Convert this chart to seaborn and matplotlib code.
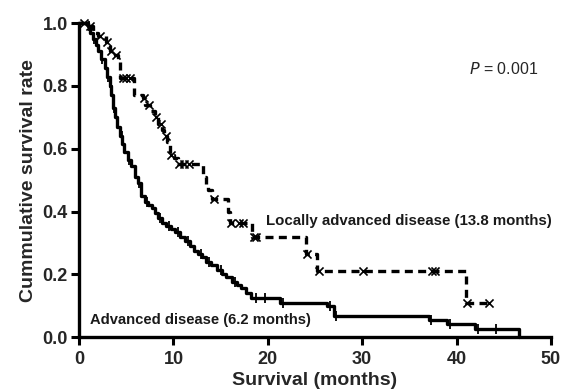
import numpy as np
import pandas as pd
import matplotlib
matplotlib.use("Agg")
import matplotlib.pyplot as plt
import seaborn as sns

# ---- Data ----
adv_time = [0, 0.9, 1.2, 1.5, 1.8, 2.0, 2.3, 2.7, 3.0, 3.25, 3.4, 3.6, 3.8, 4.05, 4.3,
            4.55, 4.8, 5.2, 5.5, 5.9, 6.2, 6.6, 7.0, 7.3, 7.7, 8.0, 8.4, 8.8, 9.2, 9.7,
            10.2, 10.7, 11.2, 11.7, 12.2, 12.6, 13.0, 13.5, 14.0, 14.6, 15.1, 15.6, 16.2,
            16.7, 17.2, 17.7, 18.2, 21.3, 26.3, 27.0, 37.1, 39.0, 42.0, 46.6]
adv_surv = [1.0, 0.99, 0.97, 0.95, 0.93, 0.91, 0.885, 0.857, 0.83, 0.80, 0.77, 0.73, 0.70,
            0.67, 0.64, 0.615, 0.59, 0.565, 0.545, 0.51, 0.49, 0.45, 0.43, 0.42, 0.41, 0.395,
            0.38, 0.365, 0.355, 0.345, 0.335, 0.32, 0.305, 0.29, 0.275, 0.265, 0.255, 0.24,
            0.23, 0.215, 0.20, 0.19, 0.175, 0.165, 0.155, 0.14, 0.125, 0.109, 0.098, 0.066,
            0.054, 0.041, 0.027, 0.0]
adv_cens = [1.0, 1.6, 2.4, 3.1, 3.7, 4.5, 5.3, 6.4, 7.2, 8.6, 9.5, 10.5, 11.5, 12.9, 13.8,
            15.0, 16.5, 18.8, 19.7, 21.6, 26.6, 27.2, 37.3, 39.3, 42.3, 44.2]

loc_time = [0, 1.0, 1.5, 2.0, 2.9, 3.25, 3.8, 4.1, 4.3, 5.8, 6.8, 7.0, 7.5, 8.0, 8.4, 8.8,
            9.0, 9.3, 9.6, 10.1, 10.5, 13.1, 13.5, 13.7, 14.1, 15.8, 16.0, 18.3, 24.0,
            25.2, 41.0, 43.4]
loc_surv = [1.0, 0.99, 0.97, 0.96, 0.94, 0.91, 0.90, 0.875, 0.826, 0.77, 0.76, 0.74, 0.72,
            0.70, 0.68, 0.66, 0.64, 0.62, 0.58, 0.57, 0.55, 0.51, 0.48, 0.47, 0.44, 0.40,
            0.364, 0.32, 0.265, 0.212, 0.109, 0.109]
loc_cens = [0.5, 1.2, 2.2, 3.0, 3.4, 3.9, 4.6, 5.0, 5.4, 6.9, 7.4, 8.1, 8.7, 9.2, 9.7,
            10.6, 11.1, 11.6, 14.3, 16.1, 16.9, 17.4, 18.5, 18.8, 24.2, 25.4, 30.1, 37.4,
            37.7, 41.1, 43.4]

x_ticks = [0, 10, 20, 30, 40, 50]
y_ticks = [0.0, 0.2, 0.4, 0.6, 0.8, 1.0]


def step_value(times, surv, t):
    idx = np.searchsorted(np.asarray(times), t, side="right") - 1
    return np.asarray(surv)[idx]


sns.set_style("white")
plt.rcParams["font.family"] = ["Liberation Sans", "DejaVu Sans"]

fig = plt.figure(figsize=(5.61, 3.92), dpi=100)
ax = fig.add_axes([0.141, 0.140, 0.841, 0.801])

adv_df = pd.DataFrame({"t": adv_time, "s": adv_surv})
loc_df = pd.DataFrame({"t": loc_time, "s": loc_surv})

sns.lineplot(data=adv_df, x="t", y="s", ax=ax, drawstyle="steps-post", color="black",
             linewidth=2.4, sort=False, estimator=None, clip_on=False)
sns.lineplot(data=loc_df, x="t", y="s", ax=ax, drawstyle="steps-post", color="black",
             linewidth=2.4, sort=False, estimator=None, clip_on=False,
             dashes=False)
ax.lines[-1].set_linestyle((0, (2.4, 1.6)))

adv_c = pd.DataFrame({"t": adv_cens, "s": [step_value(adv_time, adv_surv, c) for c in adv_cens]})
loc_c = pd.DataFrame({"t": loc_cens, "s": [step_value(loc_time, loc_surv, c) for c in loc_cens]})

sns.scatterplot(data=adv_c, x="t", y="s", ax=ax, marker="|", s=45, color="black",
                linewidth=1.3, clip_on=False)
sns.scatterplot(data=loc_c, x="t", y="s", ax=ax, marker="x", s=34, color="black",
                linewidth=1.2, clip_on=False)

ax.set_xlim(0, 50)
ax.set_ylim(0, 1.0)
ax.set_xticks(x_ticks)
ax.set_yticks(y_ticks)
ax.set_xticklabels([str(v) for v in x_ticks], fontsize=13, fontweight="bold")
ax.set_yticklabels([f"{v:.1f}" for v in y_ticks], fontsize=13, fontweight="bold")
ax.set_xlabel("Survival (months)", fontsize=14, fontweight="bold", labelpad=3)
ax.set_ylabel("Cummulative survival rate", fontsize=14, fontweight="bold", labelpad=4)

for side in ["top", "right"]:
    ax.spines[side].set_visible(False)
for side in ["left", "bottom"]:
    ax.spines[side].set_linewidth(2.4)
    ax.spines[side].set_color("black")
ax.tick_params(axis="x", which="major", direction="out", length=6, width=2.2,
               color="black", pad=4, bottom=True)
ax.tick_params(axis="y", which="major", direction="out", length=6, width=2.2,
               color="black", pad=2, left=True)

ax.text(41.3, 0.855, "$\\it{P}$ = 0.001", fontsize=11.5, ha="left", va="center")
ax.text(19.8, 0.37, "Locally advanced disease (13.8 months)", fontsize=10.8,
        fontweight="bold", color="#1a1a1a", ha="left", va="center")
ax.text(1.2, 0.055, "Advanced disease (6.2 months)", fontsize=10.6, fontweight="bold",
        color="#1a1a1a", ha="left", va="center")

fig.savefig("out.png", dpi=100)
